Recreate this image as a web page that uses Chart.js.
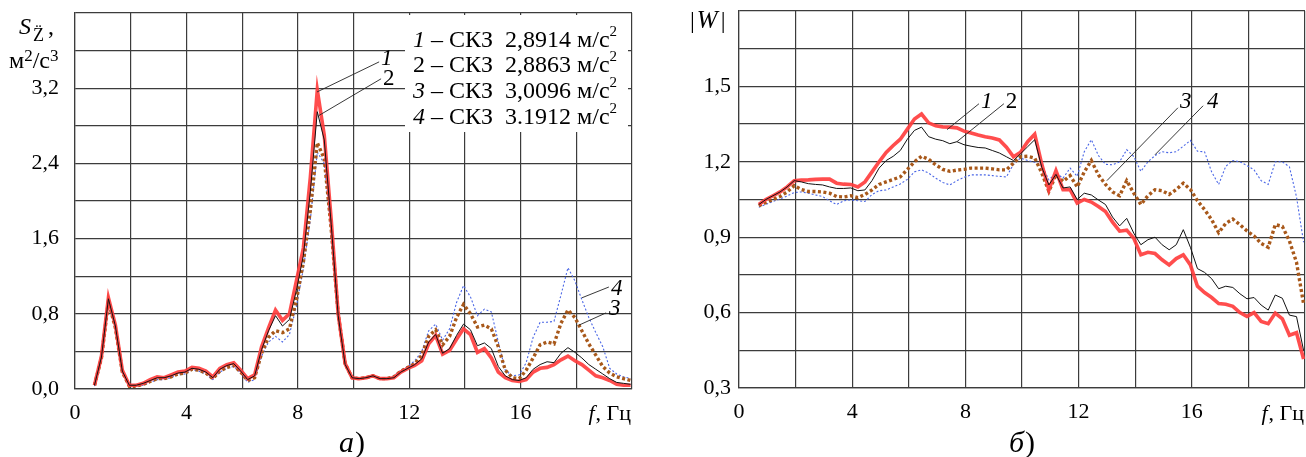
<!DOCTYPE html>
<html>
<head>
<meta charset="utf-8">
<script src="https://cdn.jsdelivr.net/npm/chart.js@4.4.0/dist/chart.umd.min.js"></script>
<style>
  html, body { margin: 0; padding: 0; background: #fff; }
  #wrap { position: relative; width: 1306px; height: 457px; overflow: hidden; }
  #cA { position: absolute; left: 0; top: 0; }
  #cB { position: absolute; left: 660px; top: 0; }
</style>
</head>
<body>
<div id="wrap">
  <canvas id="cA" width="650" height="457"></canvas>
  <canvas id="cB" width="646" height="457"></canvas>
</div>
<script>
// Frequency, Hz
const freqHz = [0.7,0.95,1.2,1.45,1.7,1.95,2.2,2.45,2.7,2.95,
  3.2,3.45,3.7,3.95,4.2,4.45,4.7,4.95,5.2,5.45,
  5.7,5.95,6.2,6.45,6.7,6.95,7.2,7.45,7.7,7.95,
  8.2,8.45,8.7,8.95,9.2,9.45,9.7,9.95,10.2,10.45,
  10.7,10.95,11.2,11.45,11.7,11.95,12.2,12.45,12.7,12.95,
  13.2,13.45,13.7,13.95,14.2,14.45,14.7,14.95,15.2,15.45,
  15.7,15.95,16.2,16.45,16.7,16.95,17.2,17.45,17.7,17.95,
  18.2,18.45,18.7,18.95,19.2,19.45,19.7,19.95];

// а) spectral density of vertical acceleration, m^2/s^3
const psd1 = [0.04,0.35,0.97,0.68,0.20,0.04,0.04,0.06,0.10,0.13,
  0.12,0.15,0.18,0.19,0.23,0.22,0.19,0.13,0.22,0.26,
  0.28,0.20,0.11,0.15,0.45,0.65,0.84,0.73,0.80,1.15,
  1.50,2.25,3.18,2.70,1.80,0.80,0.27,0.12,0.11,0.12,
  0.14,0.11,0.11,0.12,0.18,0.22,0.25,0.30,0.48,0.57,
  0.37,0.41,0.53,0.64,0.58,0.39,0.43,0.33,0.18,0.12,
  0.09,0.08,0.10,0.18,0.22,0.23,0.26,0.31,0.35,0.30,
  0.26,0.20,0.14,0.12,0.09,0.05,0.04,0.04];
const psd2 = [0.04,0.34,0.96,0.67,0.19,0.04,0.04,0.06,0.09,0.12,
  0.12,0.14,0.17,0.18,0.22,0.21,0.18,0.12,0.21,0.25,
  0.27,0.19,0.10,0.14,0.42,0.62,0.78,0.67,0.74,1.05,
  1.42,2.10,2.95,2.65,1.75,0.78,0.26,0.12,0.11,0.12,
  0.14,0.11,0.11,0.12,0.18,0.22,0.26,0.32,0.50,0.58,
  0.38,0.43,0.57,0.69,0.63,0.46,0.49,0.43,0.24,0.14,
  0.10,0.09,0.12,0.21,0.26,0.29,0.28,0.38,0.44,0.39,
  0.33,0.26,0.21,0.16,0.11,0.07,0.06,0.05];
const psd3 = [0.04,0.33,0.93,0.65,0.18,0.03,0.03,0.05,0.08,0.11,
  0.11,0.13,0.16,0.17,0.21,0.20,0.17,0.11,0.19,0.23,
  0.25,0.18,0.09,0.12,0.38,0.55,0.62,0.60,0.64,0.95,
  1.35,1.90,2.62,2.45,1.70,0.80,0.27,0.12,0.11,0.12,
  0.14,0.11,0.11,0.13,0.19,0.23,0.27,0.36,0.56,0.63,
  0.47,0.56,0.76,0.90,0.80,0.66,0.68,0.64,0.45,0.20,
  0.12,0.11,0.20,0.33,0.47,0.50,0.48,0.70,0.84,0.76,
  0.62,0.48,0.36,0.24,0.17,0.13,0.11,0.09];
const psd4 = [0.03,0.32,0.92,0.64,0.17,0.03,0.03,0.04,0.07,0.10,
  0.10,0.12,0.15,0.16,0.20,0.19,0.16,0.10,0.18,0.22,
  0.24,0.17,0.07,0.10,0.35,0.50,0.56,0.50,0.58,0.88,
  1.28,1.80,2.52,2.40,1.68,0.80,0.28,0.12,0.11,0.12,
  0.14,0.11,0.11,0.14,0.20,0.24,0.30,0.40,0.62,0.69,
  0.52,0.64,0.92,1.10,0.98,0.78,0.85,0.82,0.50,0.20,
  0.14,0.15,0.28,0.55,0.71,0.71,0.72,1.00,1.29,1.15,
  0.95,0.76,0.60,0.45,0.22,0.16,0.13,0.11];

// б) transfer function modulus |W|
const gain1 = [1.03,1.05,1.065,1.08,1.10,1.125,1.127,1.128,1.13,1.131,
  1.131,1.115,1.111,1.110,1.10,1.12,1.16,1.20,1.237,1.265,
  1.29,1.33,1.37,1.39,1.355,1.343,1.339,1.338,1.335,1.322,
  1.315,1.307,1.30,1.295,1.287,1.258,1.22,1.238,1.28,1.31,
  1.19,1.089,1.165,1.089,1.089,1.036,1.05,1.04,1.022,1.002,
  0.96,0.924,0.928,0.896,0.83,0.84,0.835,0.81,0.79,0.815,
  0.83,0.79,0.705,0.68,0.66,0.636,0.633,0.625,0.60,0.585,
  0.60,0.565,0.556,0.598,0.575,0.51,0.52,0.415];
const gain2 = [1.03,1.05,1.065,1.08,1.10,1.125,1.12,1.113,1.110,1.108,
  1.10,1.094,1.094,1.096,1.085,1.088,1.125,1.175,1.205,1.222,
  1.245,1.29,1.325,1.338,1.30,1.29,1.284,1.272,1.280,1.268,
  1.262,1.257,1.255,1.245,1.235,1.22,1.205,1.232,1.26,1.288,
  1.178,1.108,1.15,1.096,1.10,1.05,1.075,1.068,1.048,1.03,
  0.98,0.945,0.975,0.916,0.87,0.89,0.90,0.87,0.85,0.87,
  0.93,0.86,0.775,0.76,0.735,0.695,0.705,0.70,0.675,0.655,
  0.66,0.63,0.61,0.67,0.657,0.59,0.584,0.45];
const gain3 = [1.025,1.038,1.05,1.062,1.08,1.105,1.09,1.082,1.082,1.08,
  1.075,1.062,1.06,1.065,1.057,1.07,1.088,1.11,1.12,1.13,
  1.14,1.17,1.20,1.222,1.21,1.188,1.17,1.162,1.167,1.17,
  1.175,1.175,1.175,1.172,1.168,1.168,1.195,1.22,1.222,1.215,
  1.155,1.082,1.148,1.122,1.145,1.10,1.16,1.205,1.148,1.11,
  1.08,1.065,1.125,1.075,1.03,1.065,1.089,1.085,1.07,1.09,
  1.115,1.09,1.045,1.01,0.97,0.918,0.955,0.972,0.95,0.925,
  0.905,0.875,0.86,0.95,0.943,0.885,0.80,0.635];
const gain4 = [1.019,1.03,1.042,1.052,1.064,1.078,1.08,1.075,1.068,1.062,
  1.045,1.03,1.045,1.048,1.045,1.042,1.07,1.085,1.088,1.10,
  1.112,1.13,1.16,1.168,1.155,1.135,1.118,1.108,1.125,1.138,
  1.148,1.148,1.148,1.145,1.142,1.14,1.19,1.215,1.205,1.198,
  1.188,1.128,1.155,1.135,1.175,1.142,1.24,1.288,1.225,1.19,
  1.188,1.20,1.248,1.221,1.162,1.20,1.225,1.24,1.236,1.24,
  1.262,1.285,1.242,1.24,1.16,1.11,1.182,1.205,1.20,1.185,
  1.168,1.125,1.11,1.20,1.20,1.18,1.06,0.88];

// RMS values listed in the box of panel а)
const rmsLabels = ['2,8914', '2,8863', '3,0096', '3.1912'];
const curveNumbers = ['1', '2', '3', '4'];
const numberItalic = [true, false, true, true];

// Call-out leaders: [number index, from (f, value), to (f, value), text anchor (f, value)]
const calloutsA = [
  [0, [8.69, 3.16], [10.92, 3.48], [10.99, 3.45]],
  [1, [8.76, 2.91], [10.99, 3.30], [11.06, 3.234]],
  [3, [18.2, 0.97], [19.17, 1.085], [19.25, 1.0]],
  [2, [18.1, 0.68], [19.07, 0.81], [19.17, 0.79]]
];
const calloutsB = [
  [0, [7.35, 1.328], [8.48, 1.431], [8.55, 1.415]],
  [1, [7.70, 1.28], [9.36, 1.431], [9.43, 1.415]],
  [2, [13.0, 1.125], [15.51, 1.415], [15.58, 1.415]],
  [3, [14.70, 1.228], [16.40, 1.423], [16.54, 1.415]]
];

const SERIF = '"Liberation Serif", "Times New Roman", serif';
const GRID = '#3c3c3c';

const seriesStyle = [
  { color: 'rgba(255,62,62,0.92)', width: 3.6, dash: [], order: 1 },
  { color: '#111111', width: 1, dash: [], order: 0 },
  { color: '#a8581a', width: 3.4, dash: [3, 2.5], order: 2 },
  { color: '#4a66e6', width: 1.1, dash: [2, 2], order: 3 }
];

function toPoints(vals) { return freqHz.map((f, i) => ({ x: f, y: vals[i] })); }

function datasetsFrom(list) {
  return list.map((vals, k) => ({
    data: toPoints(vals),
    borderColor: seriesStyle[k].color,
    borderWidth: seriesStyle[k].width,
    borderDash: seriesStyle[k].dash,
    order: seriesStyle[k].order,
    pointRadius: 0,
    tension: 0,
    fill: false
  }));
}

function setFont(ctx, size, italic) {
  ctx.font = (italic ? 'italic ' : '') + size + 'px ' + SERIF;
}
function put(ctx, s, x, y, size, italic, align) {
  setFont(ctx, size, italic);
  ctx.textAlign = align || 'left';
  ctx.textBaseline = 'alphabetic';
  ctx.fillStyle = '#000';
  ctx.fillText(s, x, y);
  return ctx.measureText(s).width;
}
// draws a run of text pieces: [text, size, italic, dy, gapAfter]
function runs(ctx, x, y, parts) {
  for (const p of parts) {
    const w = put(ctx, p[0], x, y + (p[3] || 0), p[1], p[2]);
    x += w + (p[4] || 0);
  }
  return x;
}

function drawCallouts(chart, list) {
  const ctx = chart.ctx, xs = chart.scales.x, ys = chart.scales.y;
  ctx.save();
  ctx.strokeStyle = '#222';
  ctx.lineWidth = 0.9;
  for (const c of list) {
    ctx.beginPath();
    ctx.moveTo(xs.getPixelForValue(c[1][0]), ys.getPixelForValue(c[1][1]));
    ctx.lineTo(xs.getPixelForValue(c[2][0]), ys.getPixelForValue(c[2][1]));
    ctx.stroke();
    put(ctx, curveNumbers[c[0]], xs.getPixelForValue(c[3][0]), ys.getPixelForValue(c[3][1]), 23, numberItalic[c[0]]);
  }
  ctx.restore();
}

const decor = {
  id: 'decor',
  beforeDatasetsDraw(chart, args, opts) {
    if (opts.box) {
      const ctx = chart.ctx;
      ctx.save();
      ctx.fillStyle = '#fff';
      ctx.fillRect(opts.box[0], opts.box[1], opts.box[2], opts.box[3]);
      ctx.restore();
    }
  },
  afterDraw(chart, args, opts) {
    const ctx = chart.ctx;
    const area = chart.chartArea;
    ctx.save();
    opts.draw(ctx, area, chart);
    drawCallouts(chart, opts.callouts);
    // axis name on the x axis, right-aligned to the frame
    const xEnd = area.right - 1;
    setFont(ctx, 22, false);
    const wRest = ctx.measureText(', Гц').width;
    put(ctx, ', Гц', xEnd - wRest, 420, 22, false);
    put(ctx, 'f', xEnd - wRest - 1, 420, 22, true, 'right');
    ctx.restore();
  }
};

function axisOptions(yMin, yMax, yStep, yWidth, yPad, xHeight) {
  return {
    x: {
      type: 'linear', min: 0, max: 20,
      grid: { color: GRID, lineWidth: 1.2, drawTicks: false },
      border: { display: true, color: GRID, width: 1.2 },
      ticks: {
        stepSize: 2, autoSkip: false, maxRotation: 0, padding: 11, color: '#000',
        font: { family: SERIF, size: 22 },
        callback: (v, i) => (i % 2 === 0 && v < 17) ? String(Math.round(v)) : ''
      },
      afterFit: (s) => { s.height = xHeight; s.paddingLeft = 0; s.paddingRight = 0; }
    },
    y: {
      type: 'linear', min: yMin, max: yMax,
      grid: { color: GRID, lineWidth: 1.2, drawTicks: false },
      border: { display: true, color: GRID, width: 1.2 },
      ticks: {
        stepSize: yStep, autoSkip: false, padding: yPad, color: '#000',
        font: { family: SERIF, size: 22 },
        callback: (v, i) => (i % 2 === 0 && i <= 8) ? v.toFixed(1).replace('.', ',') : ''
      },
      afterFit: (s) => { s.width = yWidth; s.paddingTop = 0; s.paddingBottom = 0; }
    }
  };
}

const common = {
  responsive: false,
  animation: false,
  events: [],
  plugins: { legend: { display: false }, tooltip: { enabled: false } }
};

// Panel а): spectral density
new Chart(document.getElementById('cA'), {
  type: 'line',
  data: { datasets: datasetsFrom([psd1, psd2, psd3, psd4]) },
  options: Object.assign({}, common, {
    layout: { padding: { top: 13, right: 18, left: 0, bottom: 0 } },
    scales: axisOptions(0, 4, 0.4, 75, 16, 68),
    plugins: Object.assign({}, common.plugins, {
      decor: {
        box: [405, 15, 223, 117],
        callouts: calloutsA,
        draw(ctx, area) {
          // y-axis caption
          put(ctx, 'S', 19, 34, 24, true);
          put(ctx, 'Z\u0308', 33, 41, 18, false);
          put(ctx, ',', 48, 34, 24, false);
          runs(ctx, 9, 68, [['м', 24, false, 0, 0], ['2', 17, false, -7, 0], ['/с', 24, false, 0, 0], ['3', 17, false, -7, 0]]);
          // RMS list
          for (let k = 0; k < 4; k++) {
            const y = 46.5 + k * 25.8;
            runs(ctx, 413, y, [
              [curveNumbers[k], 24, numberItalic[k], 0, 0],
              [' – СКЗ  ' + rmsLabels[k] + ' м/с', 24, false, 0, 0],
              ['2', 15, false, -11, 0]
            ]);
          }
          // panel letter
          runs(ctx, 339, 452, [['а', 30, true, 0, 1], [')', 30, false, 0, 0]]);
        }
      }
    })
  }),
  plugins: [decor]
});

// Panel б): transfer function modulus
new Chart(document.getElementById('cB'), {
  type: 'line',
  data: { datasets: datasetsFrom([gain1, gain2, gain3, gain4]) },
  options: Object.assign({}, common, {
    layout: { padding: { top: 11, right: 1, left: 0, bottom: 0 } },
    scales: axisOptions(0.3, 1.8, 0.15, 79, 8, 69),
    plugins: Object.assign({}, common.plugins, {
      decor: {
        box: null,
        callouts: calloutsB,
        draw(ctx, area) {
          runs(ctx, 30, 28, [['|', 24, false, 0, 2], ['W', 25, true, 0, 3], ['|', 24, false, 0, 0]]);
          runs(ctx, 349, 452, [['б', 30, true, 0, 1], [')', 30, false, 0, 0]]);
        }
      }
    })
  }),
  plugins: [decor]
});
</script>
</body>
</html>
